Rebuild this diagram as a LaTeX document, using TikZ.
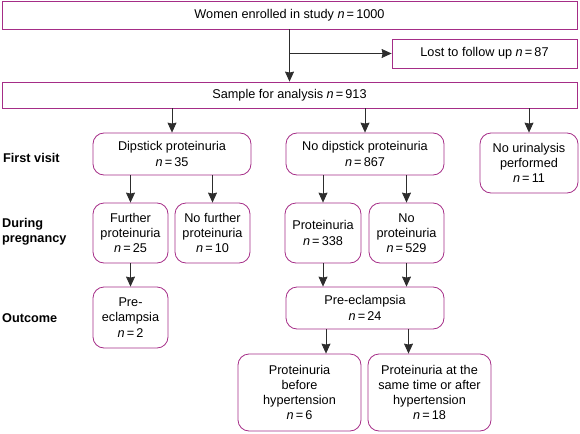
\documentclass[tikz,border=0pt]{standalone}
\usepackage{fontspec}
\setmainfont{Liberation Sans}
\usetikzlibrary{arrows.meta,positioning}

\definecolor{boxline}{RGB}{165,45,135}
\definecolor{linkgray}{RGB}{45,45,45}
\newcommand{\nn}[1]{\textit{n}\,=\,#1}

\begin{document}
\begin{tikzpicture}
  [
    x = 1pt,
    y = -1pt,
    font = \fontsize{12.7}{15.3}\selectfont,
    every node/.style = {
      align = center,
      inner sep = 0pt,
    },
    box/.style = {
      draw = boxline,
      line width = 0.8pt,
    },
    rbox/.style = {
      box,
      rounded corners = 11pt,
    },
    row/.style = {
      anchor = west,
      align = left,
      font = \fontsize{12.7}{15.3}\selectfont\bfseries,
    },
    link/.style = {
      ->,
      draw = linkgray,
      line width = 0.7pt,
    },
    > = {Stealth[length=10pt,width=9pt,inset=1pt]},
  ]

  \useasboundingbox (0, 0) rectangle (580, 433);

  \node (enrolled) [box, minimum width = 575pt, minimum height = 28pt] at (289.5, 15)
    {Women enrolled in study \nn{1000}};
  \node (lost) [box, minimum width = 185pt, minimum height = 29pt] at (484.5, 53.5)
    {Lost to follow up \nn{87}};
  \node (sample) [box, minimum width = 575pt, minimum height = 26pt] at (289.5, 95)
    {Sample for analysis \nn{913}};

  \node (dipstick) [rbox, minimum width = 158pt, minimum height = 42pt] at (172, 154)
    {Dipstick proteinuria\\\nn{35}};
  \node (nodip) [rbox, minimum width = 158pt, minimum height = 42pt] at (365, 154)
    {No dipstick proteinuria\\\nn{867}};
  \node (nourin) [rbox, minimum width = 98pt, minimum height = 60pt] at (529, 163)
    {No urinalysis\\performed\\\nn{11}};

  \node (further) [rbox, minimum width = 75pt, minimum height = 60pt] at (130.5, 233)
    {Further\\proteinuria\\\nn{25}};
  \node (nofurther) [rbox, minimum width = 75pt, minimum height = 60pt] at (212.5, 233)
    {No further\\proteinuria\\\nn{10}};
  \node (prot) [rbox, minimum width = 76pt, minimum height = 60pt] at (323, 233)
    {Proteinuria\\\nn{338}};
  \node (noprot) [rbox, minimum width = 75pt, minimum height = 60pt] at (406.5, 233)
    {No\\proteinuria\\\nn{529}};

  \node (preeclA) [rbox, minimum width = 75pt, minimum height = 61pt] at (130.5, 317.5)
    {Pre-\\eclampsia\\\nn{2}};
  \node (preeclB) [rbox, minimum width = 158pt, minimum height = 42pt] at (365, 308)
    {Pre-eclampsia\\\nn{24}};

  \node (before) [rbox, minimum width = 123pt, minimum height = 77pt] at (299.5, 392.5)
    {Proteinuria\\before\\hypertension\\\nn{6}};
  \node (after) [rbox, minimum width = 123pt, minimum height = 77pt] at (429.5, 392.5)
    {Proteinuria at the\\same time or after\\hypertension\\\nn{18}};

  \node (firstvisit) [row] at (3, 158) {First visit};
  \node (during) [row] at (2, 232) {During\\pregnancy};
  \node (outcome) [row] at (2, 318) {Outcome};

  \draw [link] (enrolled) -- (sample);
  \draw [link] (enrolled.south |- lost.west) -- (lost.west);

  \draw [link] (sample.south -| dipstick) -- (dipstick);
  \draw [link] (sample.south -| nodip) -- (nodip);
  \draw [link] (sample.south -| nourin) -- (nourin);

  \draw [link] (dipstick.south -| further) -- (further);
  \draw [link] (dipstick.south -| nofurther) -- (nofurther);
  \draw [link] (nodip.south -| prot) -- (prot);
  \draw [link] (nodip.south -| noprot) -- (noprot);

  \draw [link] (further) -- (preeclA);
  \draw [link] (prot) -- (prot |- preeclB.north);
  \draw [link] (noprot) -- (noprot |- preeclB.north);

  \draw [link] ([xshift=3pt] preeclB.south -| prot) -- ([xshift=3pt] before.north -| prot);
  \draw [link] ([xshift=2pt] preeclB.south -| noprot) -- ([xshift=2pt] after.north -| noprot);

\end{tikzpicture}
\end{document}
